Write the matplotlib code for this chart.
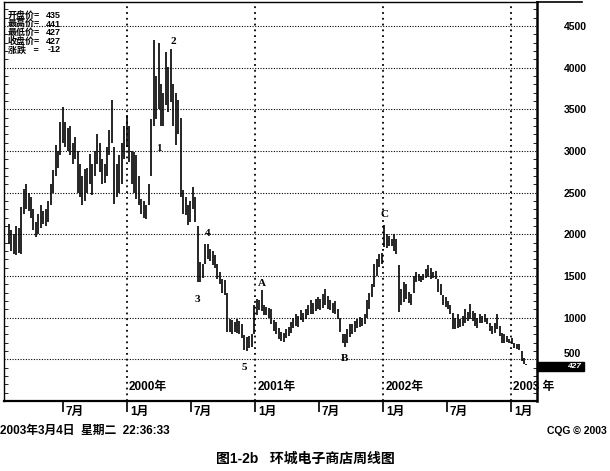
import matplotlib
matplotlib.use("Agg")
import numpy as np
import pandas as pd
import matplotlib.pyplot as plt
import matplotlib.transforms as mtransforms
from matplotlib.patches import Rectangle

plt.rcParams['font.family'] = ['Liberation Sans', 'Noto Sans CJK SC', 'DejaVu Sans']

# weekly highs / lows (one value per week, from late Jan 1999)
highs = [2130, 2050, 2000, 2100, 2080, 2330, 2550, 2600, 2500, 2450,
         2300, 2150, 2250, 2350, 2280, 2300, 2400, 2600, 2770, 3070,
         3000, 3350, 3530, 3350, 3280, 3300, 3100, 3170, 3000, 2850,
         2700, 2780, 2800, 2960, 2850, 3000, 3200, 3100, 2900, 2850,
         3050, 3250, 3610, 3050, 2850, 2950, 3100, 3300, 3430, 3300,
         3000, 2990, 2950, 2700, 2420, 2400, 2350, 2610, 3390, 4330,
         3900, 4300, 3800, 3700, 4190, 4010, 4230, 3800, 3700, 3610,
         3400, 2530, 2450, 2350, 2400, 2570, 2450, 2100, 1670, 1650,
         1890, 1880, 1830, 1800, 1750, 1650, 1550, 1470, 1450, 1300,
         990, 970, 950, 980, 960, 930, 790, 770, 780, 810,
         1150, 1230, 1210, 1330, 1150, 1130, 1120, 1110, 970, 950,
         880, 830, 820, 870, 890, 950, 1000, 1050, 1020, 1090,
         1060, 1100, 1150, 1210, 1180, 1230, 1250, 1230, 1280, 1350,
         1260, 1210, 1180, 1200, 1100, 1000, 810, 800, 860, 920,
         930, 960, 980, 1010, 1000, 1050, 1210, 1300, 1410, 1650,
         1700, 1770, 1780, 2110, 2000, 1980, 1950, 2000, 1950, 1630,
         1350, 1430, 1400, 1310, 1280, 1500, 1550, 1530, 1500, 1530,
         1580, 1630, 1600, 1550, 1560, 1470, 1400, 1270, 1250, 1200,
         1150, 1060, 1000, 1040, 980, 1020, 1100, 1070, 1170, 1080,
         1060, 1000, 1040, 1020, 1040, 1000, 940, 900, 940, 1040,
         900, 820, 800, 780, 740, 760, 700, 690, 680, 600,
         520, 441]
lows = [1880, 1800, 1760, 1750, 1780, 1760, 2250, 2300, 2280, 2200,
        2050, 1970, 2000, 2080, 2120, 2100, 2150, 2350, 2500, 2700,
        2800, 2950, 3100, 3050, 3000, 2950, 2850, 2900, 2500, 2450,
        2350, 2400, 2500, 2600, 2470, 2700, 2850, 2750, 2600, 2620,
        2700, 2950, 3100, 2360, 2450, 2500, 2600, 2900, 3050, 2870,
        2600, 2500, 2430, 2350, 2250, 2200, 2190, 2350, 2700, 3300,
        3390, 3500, 3300, 3300, 3550, 3470, 3590, 3300, 3070, 3200,
        2450, 2250, 2230, 2110, 2150, 2300, 2150, 1430, 1430, 1480,
        1650, 1700, 1680, 1630, 1600, 1470, 1400, 1300, 1270, 830,
        830, 810, 830, 820, 810, 760, 610, 600, 640, 650,
        800, 1030, 1090, 1080, 1030, 1030, 1000, 930, 840, 810,
        750, 720, 710, 760, 780, 820, 880, 900, 890, 970,
        950, 980, 1030, 1050, 1040, 1080, 1100, 1090, 1120, 1150,
        1100, 1090, 1060, 1050, 990, 830, 700, 650, 700, 770,
        800, 830, 880, 890, 900, 920, 1000, 1100, 1250, 1370,
        1500, 1610, 1650, 1850, 1840, 1860, 1860, 1800, 1760, 1070,
        1150, 1190, 1220, 1180, 1150, 1300, 1430, 1440, 1430, 1450,
        1480, 1490, 1470, 1480, 1470, 1310, 1270, 1150, 1130, 1100,
        1050, 860, 870, 880, 890, 900, 940, 960, 980, 960,
        900, 880, 940, 940, 950, 920, 840, 800, 820, 860,
        780, 700, 700, 710, 700, 690, 640, 620, 610, 480,
        440, 427]

start_date = '1999-01-29'
price_ticks = [500, 1000, 1500, 2000, 2500, 3000, 3500, 4000, 4500]
years = ['2000', '2001', '2002', '2003']
month_ticks = ['1999-07-01', '2000-01-01', '2000-07-01', '2001-01-01', '2001-07-01',
               '2002-01-01', '2002-07-01', '2003-01-01']
month_labels = ['7月', '1月', '7月', '1月', '7月', '1月', '7月', '1月']

info_names = ['开盘价=', '最高价=', '最低价=', '收盘价=', '涨跌   =']
info_values = ['435', '441', '427', '427', '-12']
last_close = 427

# wave labels: (week index, price, text)
wave_weeks = [61, 67, 77, 81, 96, 103, 137, 153]
wave_prices = [3030, 4320, 1220, 2010, 400, 1410, 510, 2240]
wave_texts = ['1', '2', '3', '4', '5', 'A', 'B', 'C']

dates = pd.date_range(start_date, periods=len(highs), freq='7D')

fig = plt.figure(figsize=(6.1, 4.71), dpi=100)
ax = fig.add_axes([4/610, 70/471, 533/610, 399/471])

# grid
for v in price_ticks:
    ax.axhline(v, color='black', lw=0.8, ls=(0, (1, 1.4)), zorder=1)
for y in years:
    ax.axvline(pd.Timestamp(y + '-01-01'), color='black', lw=1.3, ls=(0, (1, 2.2)), zorder=1)

# weekly bars
ax.vlines(dates, lows, highs, color='black', lw=1.2, zorder=3)

ax.set_ylim(0, 4790)
ax.set_xlim(pd.Timestamp('1999-01-15'), pd.Timestamp('2003-03-16'))

# right price axis
ax.yaxis.tick_right()
ax.set_yticks(price_ticks)
ax.set_yticklabels([str(v) for v in price_ticks], fontsize=7.5, fontweight='bold')
ax.set_yticks(np.arange(100, 4800, 100), minor=True)
ax.tick_params(axis='y', which='major', length=0, pad=19)
ax.tick_params(axis='y', which='minor', direction='in', length=3, left=True, right=True)
ax.get_yticklabels()[0].set_va('bottom')

# month ticks
ax.set_xticks(pd.to_datetime(month_ticks))
ax.set_xticklabels([''] * len(month_ticks))
ax.tick_params(axis='x', which='major', direction='out', length=8, width=1.2)
bx = mtransforms.blended_transform_factory(ax.transData, ax.transAxes)
for d, lbl in zip(pd.to_datetime(month_ticks), month_labels):
    ax.text(d + pd.Timedelta(days=9), -0.012, lbl, transform=bx, ha='left', va='top',
            fontsize=8.5, fontweight='bold')

for y in years:
    lbl = y + '年' if y != '2003' else y + ' 年'
    ax.text(pd.Timestamp(y + '-01-01') + pd.Timedelta(days=6), 0.035, lbl, transform=bx,
            ha='left', va='center', fontsize=8.5, fontweight='bold', clip_on=False)

for s in ['left', 'top']:
    ax.spines[s].set_linewidth(1.0)
ax.spines['right'].set_linewidth(1.8)
ax.spines['bottom'].set_linewidth(1.6)
ax.spines['right'].set_zorder(5)
ax.plot([1.0, 578/533], [1.0, 1.0], transform=ax.transAxes, color='black', lw=1.2, clip_on=False)

# info block
for i, (n, v) in enumerate(zip(info_names, info_values)):
    yy = 0.966 - i * 0.0215
    ax.text(0.007, yy, n, transform=ax.transAxes, fontsize=6.5, fontweight='bold', va='center', ha='left')
    ax.text(0.107, yy, v, transform=ax.transAxes, fontsize=6.5, fontweight='bold', va='center', ha='right')

# wave labels
for w, p, t in zip(wave_weeks, wave_prices, wave_texts):
    ax.text(dates[w], p, t, ha='center', va='center', fontsize=8, fontweight='bold',
            family='Liberation Serif', zorder=4)

# last price box
by = mtransforms.blended_transform_factory(ax.transAxes, ax.transData)
ax.add_patch(Rectangle((1.0, last_close - 65), 47/533, 105, transform=by, color='black',
                       clip_on=False, zorder=6))
ax.text(1.0 + 44/533, last_close - 12, str(last_close), transform=by, color='white', fontsize=6,
        fontstyle='italic', fontweight='bold', ha='right', va='center', zorder=7)

fig.text(0.0, 1 - 431/471, '2003年3月4日  星期二  22:36:33', fontsize=8.5, fontweight='bold',
         ha='left', va='center')
fig.text(0.995, 1 - 431/471, 'CQG © 2003', fontsize=7.5, fontweight='bold', ha='right', va='center')
fig.text(0.5, 1 - 459/471, '图1-2b   环城电子商店周线图', fontsize=10, fontweight='bold',
         ha='center', va='center')

fig.savefig('out.png', dpi=100)
